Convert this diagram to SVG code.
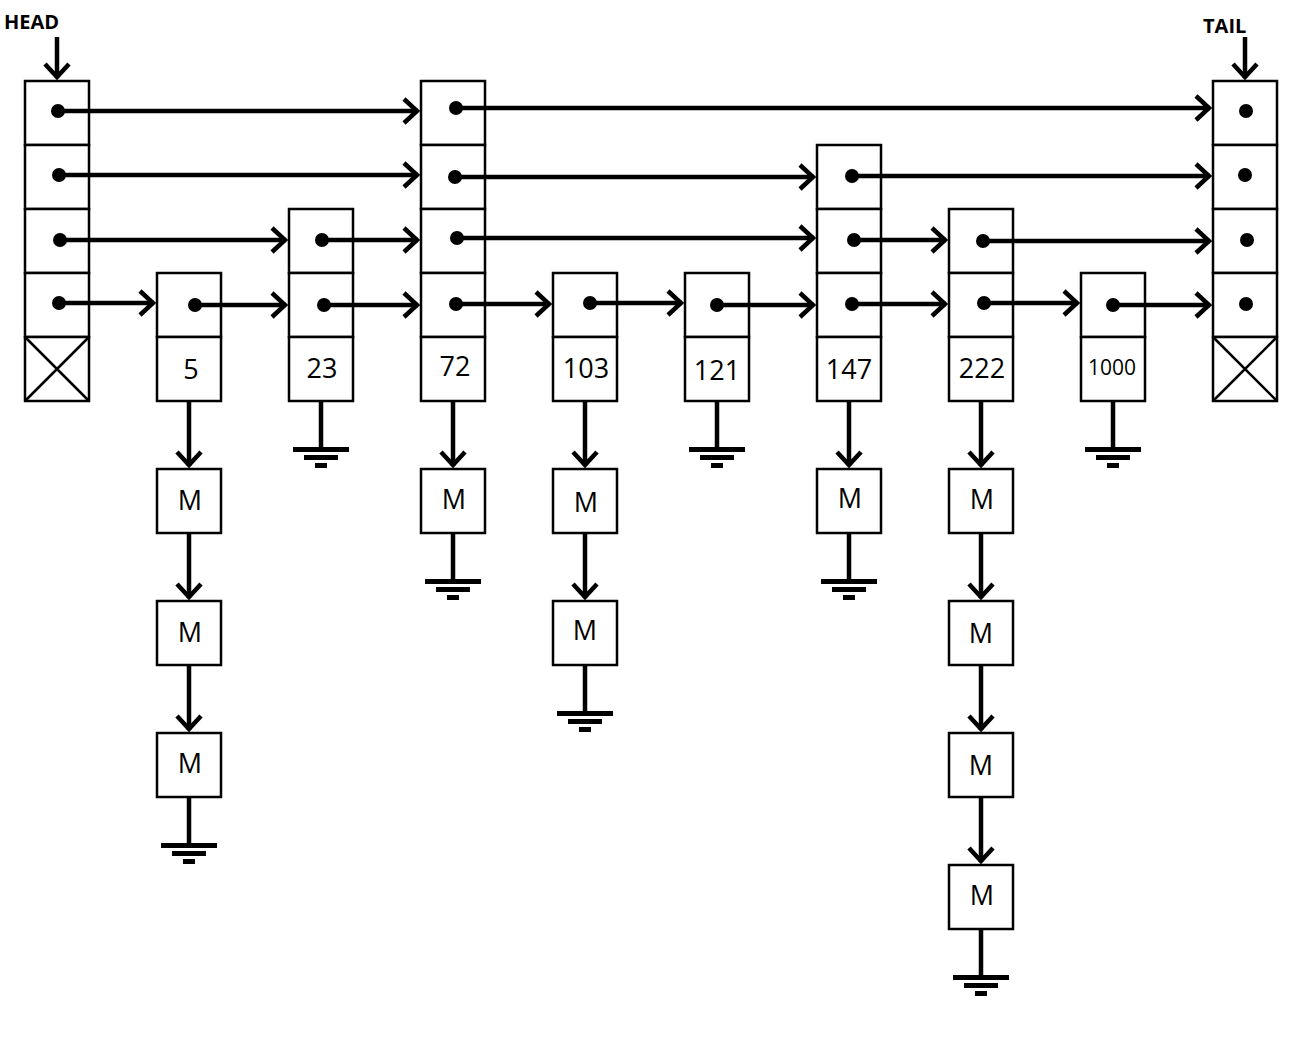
<svg xmlns="http://www.w3.org/2000/svg" width="1305" height="1037" viewBox="0 0 1305 1037">
<defs>
<style>
.b{fill:#fff;stroke:#000;stroke-width:2.5}
.x{stroke:#000;stroke-width:2.5}
.l{stroke:#000;stroke-width:4.5;fill:none}
.d{fill:#000}
.t{font-family:"Open Sans","DejaVu Sans",sans-serif;font-size:27px;text-anchor:middle;fill:#000}
.h{font-family:"Open Sans","DejaVu Sans",sans-serif;font-size:20px;font-weight:bold;fill:#000}
</style>
<marker id="a" viewBox="0 0 20 30" refX="18" refY="15" markerWidth="20" markerHeight="30" markerUnits="userSpaceOnUse" orient="auto">
<path d="M4,3 L17,15 L4,27" fill="none" stroke="#000" stroke-width="4.5"/>
</marker>
<g id="gnd"><rect x="-28" y="46" width="56" height="5"/><rect x="-17" y="54" width="34" height="5"/><rect x="-6" y="62" width="12" height="5"/><rect x="-2.25" y="0" width="4.5" height="48"/></g>
</defs>
<text class="h" x="4" y="29">HEAD</text>
<text class="h" x="1203" y="33">TAIL</text>
<g id="nodes">
<g id="head"><rect class="b" x="25" y="81" width="64" height="64"/><rect class="b" x="25" y="145" width="64" height="64"/><rect class="b" x="25" y="209" width="64" height="64"/><rect class="b" x="25" y="273" width="64" height="64"/><rect class="b" x="25" y="337" width="64" height="64"/><path class="x" d="M25,337L89,401M89,337L25,401"/></g>
<g id="n5"><rect class="b" x="157" y="273" width="64" height="64"/><rect class="b" x="157" y="337" width="64" height="64"/><text class="t" x="191" y="379">5</text></g>
<g id="n23"><rect class="b" x="289" y="209" width="64" height="64"/><rect class="b" x="289" y="273" width="64" height="64"/><rect class="b" x="289" y="337" width="64" height="64"/><text class="t" x="322" y="378">23</text></g>
<g id="n72"><rect class="b" x="421" y="81" width="64" height="64"/><rect class="b" x="421" y="145" width="64" height="64"/><rect class="b" x="421" y="209" width="64" height="64"/><rect class="b" x="421" y="273" width="64" height="64"/><rect class="b" x="421" y="337" width="64" height="64"/><text class="t" x="455" y="376">72</text></g>
<g id="n103"><rect class="b" x="553" y="273" width="64" height="64"/><rect class="b" x="553" y="337" width="64" height="64"/><text class="t" x="586" y="378">103</text></g>
<g id="n121"><rect class="b" x="685" y="273" width="64" height="64"/><rect class="b" x="685" y="337" width="64" height="64"/><text class="t" x="717" y="380">121</text></g>
<g id="n147"><rect class="b" x="817" y="145" width="64" height="64"/><rect class="b" x="817" y="209" width="64" height="64"/><rect class="b" x="817" y="273" width="64" height="64"/><rect class="b" x="817" y="337" width="64" height="64"/><text class="t" x="849" y="379">147</text></g>
<g id="n222"><rect class="b" x="949" y="209" width="64" height="64"/><rect class="b" x="949" y="273" width="64" height="64"/><rect class="b" x="949" y="337" width="64" height="64"/><text class="t" x="982" y="378">222</text></g>
<g id="n1000"><rect class="b" x="1081" y="273" width="64" height="64"/><rect class="b" x="1081" y="337" width="64" height="64"/><text class="t" x="1112" y="375" style="font-size:21px">1000</text></g>
<g id="tail"><rect class="b" x="1213" y="81" width="64" height="64"/><rect class="b" x="1213" y="145" width="64" height="64"/><rect class="b" x="1213" y="209" width="64" height="64"/><rect class="b" x="1213" y="273" width="64" height="64"/><rect class="b" x="1213" y="337" width="64" height="64"/><path class="x" d="M1213,337L1277,401M1277,337L1213,401"/>
<circle class="d" cx="1246" cy="111" r="7"/><circle class="d" cx="1245" cy="175" r="7"/><circle class="d" cx="1247" cy="240" r="7"/><circle class="d" cx="1246" cy="304" r="7"/></g>
<g id="m5a"><rect class="b" x="157" y="469" width="64" height="64"/><text class="t" x="190" y="510">M</text></g>
<g id="m5b"><rect class="b" x="157" y="601" width="64" height="64"/><text class="t" x="190" y="642">M</text></g>
<g id="m5c"><rect class="b" x="157" y="733" width="64" height="64"/><text class="t" x="190" y="773">M</text></g>
<g id="m72"><rect class="b" x="421" y="469" width="64" height="64"/><text class="t" x="454" y="509">M</text></g>
<g id="m103a"><rect class="b" x="553" y="469" width="64" height="64"/><text class="t" x="586" y="512">M</text></g>
<g id="m103b"><rect class="b" x="553" y="601" width="64" height="64"/><text class="t" x="585" y="640">M</text></g>
<g id="m147"><rect class="b" x="817" y="469" width="64" height="64"/><text class="t" x="850" y="508">M</text></g>
<g id="m222a"><rect class="b" x="949" y="469" width="64" height="64"/><text class="t" x="982" y="509">M</text></g>
<g id="m222b"><rect class="b" x="949" y="601" width="64" height="64"/><text class="t" x="981" y="643">M</text></g>
<g id="m222c"><rect class="b" x="949" y="733" width="64" height="64"/><text class="t" x="981" y="775">M</text></g>
<g id="m222d"><rect class="b" x="949" y="865" width="64" height="64"/><text class="t" x="982" y="905">M</text></g>
</g>
<g id="connectors">
<line class="l" x1="57" y1="37" x2="57" y2="78" marker-end="url(#a)"/>
<line class="l" x1="1245" y1="37" x2="1245" y2="78" marker-end="url(#a)"/>
<g class="d">
<circle cx="58" cy="111" r="7"/><circle cx="59" cy="175" r="7"/><circle cx="60" cy="240" r="7"/><circle cx="59" cy="303" r="7"/>
<circle cx="195" cy="305" r="7"/><circle cx="322" cy="240" r="7"/><circle cx="324" cy="305" r="7"/>
<circle cx="456" cy="108" r="7"/><circle cx="455" cy="177" r="7"/><circle cx="457" cy="238" r="7"/><circle cx="456" cy="304" r="7"/>
<circle cx="590" cy="303" r="7"/><circle cx="717" cy="305" r="7"/>
<circle cx="852" cy="176" r="7"/><circle cx="854" cy="240" r="7"/><circle cx="852" cy="304" r="7"/>
<circle cx="983" cy="241" r="7"/><circle cx="984" cy="303" r="7"/><circle cx="1113" cy="305" r="7"/>
</g>
<line class="l" x1="58" y1="111" x2="418" y2="111" marker-end="url(#a)"/>
<line class="l" x1="456" y1="108" x2="1210" y2="108" marker-end="url(#a)"/>
<line class="l" x1="59" y1="175" x2="418" y2="175" marker-end="url(#a)"/>
<line class="l" x1="455" y1="177" x2="814" y2="177" marker-end="url(#a)"/>
<line class="l" x1="852" y1="176" x2="1210" y2="176" marker-end="url(#a)"/>
<line class="l" x1="60" y1="240" x2="286" y2="240" marker-end="url(#a)"/>
<line class="l" x1="322" y1="240" x2="418" y2="240" marker-end="url(#a)"/>
<line class="l" x1="457" y1="238" x2="814" y2="238" marker-end="url(#a)"/>
<line class="l" x1="854" y1="240" x2="946" y2="240" marker-end="url(#a)"/>
<line class="l" x1="983" y1="241" x2="1210" y2="241" marker-end="url(#a)"/>
<line class="l" x1="59" y1="303" x2="154" y2="303" marker-end="url(#a)"/>
<line class="l" x1="195" y1="305" x2="286" y2="305" marker-end="url(#a)"/>
<line class="l" x1="324" y1="305" x2="418" y2="305" marker-end="url(#a)"/>
<line class="l" x1="456" y1="304" x2="550" y2="304" marker-end="url(#a)"/>
<line class="l" x1="590" y1="303" x2="682" y2="303" marker-end="url(#a)"/>
<line class="l" x1="717" y1="305" x2="814" y2="305" marker-end="url(#a)"/>
<line class="l" x1="852" y1="304" x2="946" y2="304" marker-end="url(#a)"/>
<line class="l" x1="984" y1="303" x2="1078" y2="303" marker-end="url(#a)"/>
<line class="l" x1="1113" y1="305" x2="1210" y2="305" marker-end="url(#a)"/>
<line class="l" x1="189" y1="402" x2="189" y2="466" marker-end="url(#a)"/>
<line class="l" x1="189" y1="534" x2="189" y2="598" marker-end="url(#a)"/>
<line class="l" x1="189" y1="666" x2="189" y2="730" marker-end="url(#a)"/>
<line class="l" x1="453" y1="402" x2="453" y2="466" marker-end="url(#a)"/>
<line class="l" x1="585" y1="402" x2="585" y2="466" marker-end="url(#a)"/>
<line class="l" x1="585" y1="534" x2="585" y2="598" marker-end="url(#a)"/>
<line class="l" x1="849" y1="402" x2="849" y2="466" marker-end="url(#a)"/>
<line class="l" x1="981" y1="402" x2="981" y2="466" marker-end="url(#a)"/>
<line class="l" x1="981" y1="534" x2="981" y2="598" marker-end="url(#a)"/>
<line class="l" x1="981" y1="666" x2="981" y2="730" marker-end="url(#a)"/>
<line class="l" x1="981" y1="798" x2="981" y2="862" marker-end="url(#a)"/>
<use href="#gnd" x="321" y="401"/>
<use href="#gnd" x="717" y="401"/>
<use href="#gnd" x="1113" y="401"/>
<use href="#gnd" x="453" y="533"/>
<use href="#gnd" x="849" y="533"/>
<use href="#gnd" x="585" y="665"/>
<use href="#gnd" x="189" y="797"/>
<use href="#gnd" x="981" y="929"/>
</g>
</svg>
